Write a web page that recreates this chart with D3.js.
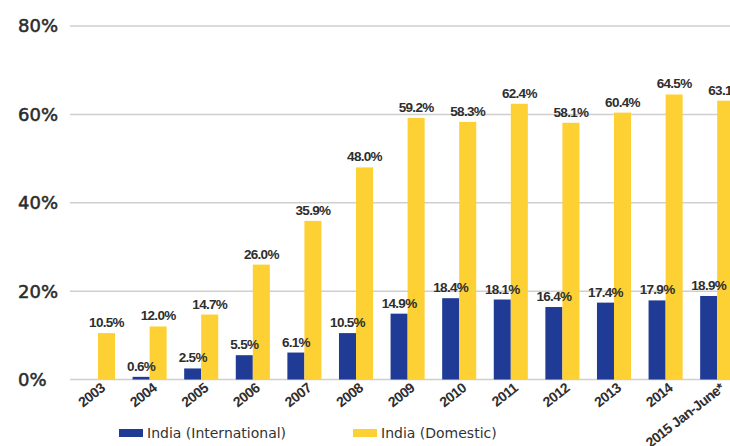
<!DOCTYPE html>
<html>
<head>
<meta charset="utf-8">
<script src="https://cdn.jsdelivr.net/npm/d3@7"></script>
<style>
  body { margin: 0; background: #fff; }
  svg { display: block; }
</style>
</head>
<body>
<div id="chart"></div>
<script>
var years = ["2003", "2004", "2005", "2006", "2007", "2008", "2009", "2010", "2011", "2012", "2013", "2014", "2015 Jan-June*"];
var international = [null, 0.6, 2.5, 5.5, 6.1, 10.5, 14.9, 18.4, 18.1, 16.4, 17.4, 17.9, 18.9];
var domestic = [10.5, 12.0, 14.7, 26.0, 35.9, 48.0, 59.2, 58.3, 62.4, 58.1, 60.4, 64.5, 63.1];
var yTicks = [0, 20, 40, 60, 80];
var seriesNames = ["India (International)", "India (Domestic)"];
var colors = ["#1f3b95", "#fdd034"];

var width = 730, height = 446;

var svg = d3.select("#chart")
  .append("svg")
  .attr("width", width)
  .attr("height", height);

var yScale = d3.scaleLinear()
  .domain([0, 80])
  .range([379.5, 26]);

// group band, then two bars inside each group
var xScale = d3.scaleBand()
  .domain(years)
  .range([65.5, 749.7])
  .paddingInner(0.34)
  .paddingOuter(0.3);

var xSub = d3.scaleBand()
  .domain([0, 1])
  .range([0, xScale.bandwidth()]);

// grid
svg.append("g")
  .selectAll("line")
  .data(yTicks)
  .enter()
  .append("line")
  .attr("x1", 70)
  .attr("x2", width)
  .attr("y1", function (d) { return yScale(d); })
  .attr("y2", function (d) { return yScale(d); })
  .attr("stroke", "#cfcfcf")
  .attr("stroke-width", 1.5);

svg.append("g")
  .selectAll("text")
  .data(yTicks)
  .enter()
  .append("text")
  .attr("x", 18)
  .attr("y", function (d) { return yScale(d); })
  .attr("dy", "0.36em")
  .attr("font-family", "DejaVu Sans, sans-serif")
  .attr("font-size", 18)
  .attr("fill", "#2b2b2b")
  .attr("stroke", "#2b2b2b")
  .attr("stroke-width", 0.5)
  .text(function (d) { return d + "%"; });

var rows = years.map(function (y, i) {
  return { year: y, vals: [international[i], domestic[i]] };
});

var groups = svg.append("g")
  .selectAll("g")
  .data(rows)
  .enter()
  .append("g")
  .attr("transform", function (d) { return "translate(" + xScale(d.year) + ",0)"; });

groups.selectAll("rect")
  .data(function (d) { return d.vals.map(function (v, k) { return { v: v, k: k }; }).filter(function (e) { return e.v != null; }); })
  .enter()
  .append("rect")
  .attr("x", function (d) { return xSub(d.k); })
  .attr("width", xSub.bandwidth())
  .attr("y", function (d) { return yScale(d.v); })
  .attr("height", function (d) { return yScale(0) - yScale(d.v); })
  .attr("fill", function (d) { return colors[d.k]; });

groups.selectAll("text")
  .data(function (d) { return d.vals.map(function (v, k) { return { v: v, k: k }; }).filter(function (e) { return e.v != null; }); })
  .enter()
  .append("text")
  .attr("x", function (d) { return xSub(d.k) + xSub.bandwidth() / 2; })
  .attr("y", function (d) { return yScale(d.v) - 6; })
  .attr("text-anchor", "middle")
  .attr("font-family", "Liberation Sans, Arial, sans-serif")
  .attr("font-size", 13.5)
  .attr("font-weight", "bold")
  .attr("letter-spacing", "-0.7")
  .attr("fill", "#2e2e2e")
  .text(function (d) { return d.v.toFixed(1) + "%"; });

// rotated year labels
svg.append("g")
  .selectAll("text")
  .data(years)
  .enter()
  .append("text")
  .attr("transform", function (d) {
    return "translate(" + (xScale(d) + xScale.bandwidth() / 2 + 5) + ",386) rotate(-38)";
  })
  .attr("text-anchor", "end")
  .attr("dy", "0.35em")
  .attr("font-family", "Liberation Sans, Arial, sans-serif")
  .attr("font-size", 14)
  .attr("font-weight", "bold")
  .attr("letter-spacing", "-0.5")
  .attr("fill", "#2e2e2e")
  .text(function (d) { return d; });

// legend
var legendX = [119, 353];
var legend = svg.append("g")
  .selectAll("g")
  .data(seriesNames)
  .enter()
  .append("g")
  .attr("transform", function (d, i) { return "translate(" + legendX[i] + ",429)"; });

legend.append("rect")
  .attr("width", 24)
  .attr("height", 8)
  .attr("fill", function (d, i) { return colors[i]; });

legend.append("text")
  .attr("x", 28)
  .attr("y", 4)
  .attr("dy", "0.36em")
  .attr("font-family", "DejaVu Sans, sans-serif")
  .attr("font-size", 14)
  .attr("fill", "#333")
  .text(function (d) { return d; });
</script>
</body>
</html>
